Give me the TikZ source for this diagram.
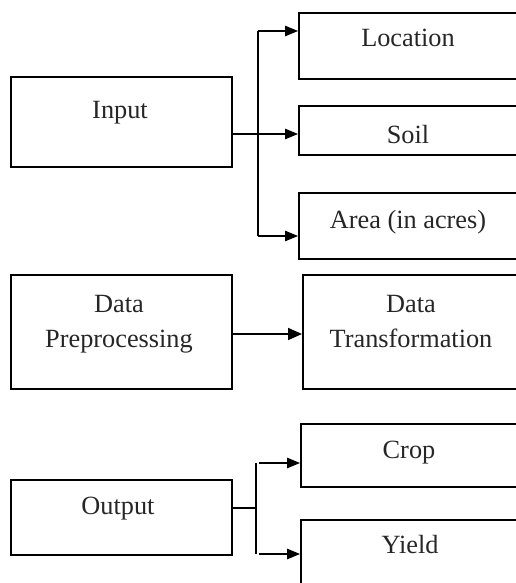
\documentclass[tikz,border=0pt]{standalone}
\usepackage{fontspec}
\setmainfont{Liberation Serif}
\usetikzlibrary{arrows.meta}
\begin{document}
\begin{tikzpicture}[x=1pt,y=-1pt,
  box/.style={draw,line width=1.6pt,minimum width=#1,inner sep=0pt,anchor=north west},
  lbl/.style={font=\fontsize{26.3}{30}\selectfont,anchor=base,inner sep=0pt},
  conn/.style={line width=1.2pt},
  arr/.style={line width=1.2pt,-{Triangle[length=13pt,width=10.5pt]}},
  every node/.style={text=black!85}]
\useasboundingbox (0,0) rectangle (516,583);
\clip (0,0) rectangle (516,583);
% boxes
\node[box=221pt,minimum height=90pt] (inp) at (10,76) {};
\node[box=232pt,minimum height=66pt] (loc) at (298,12) {};
\node[box=232pt,minimum height=49pt] (soil) at (298,105) {};
\node[box=232pt,minimum height=66pt] (area) at (298,192) {};
\node[box=221pt,minimum height=114pt] (dp) at (10,274) {};
\node[box=228pt,minimum height=114pt] (dt) at (302,274) {};
\node[box=230pt,minimum height=63pt] (crop) at (300,423) {};
\node[box=230pt,minimum height=80pt] (yield) at (300,519) {};
\node[box=221pt,minimum height=75pt] (out) at (10,479) {};
% labels
\node[lbl] (tinp) at (120,118) {Input};
\node[lbl] (tloc) at (408,47) {Location};
\node[lbl] (tsoil) at (408,143) {Soil};
\node[lbl] (tarea) at (408,228) {Area (in acres)};
\node[lbl] (tdp1) at (119,312) {Data};
\node[lbl] (tdp2) at (119,347) {Preprocessing};
\node[lbl] (tdt1) at (411,312) {Data};
\node[lbl] (tdt2) at (411,347) {Transformation};
\node[lbl] (tcrop) at (409,458) {Crop};
\node[lbl] (tyield) at (410,553) {Yield};
\node[lbl] (tout) at (118,514) {Output};
% connectors: input
\coordinate (jtop) at (258,31);
\coordinate (jmid) at (258,134);
\coordinate (jbot) at (258,236);
\draw[conn] (jtop) -- (jbot);
\draw[arr] (inp.east |- jmid) -- (soil.west |- jmid);
\draw[arr] (jtop) -- (loc.west |- jtop);
\draw[arr] (jbot) -- (area.west |- jbot);
% preprocessing
\coordinate (jdp) at (231,334);
\draw[line width=1.7pt,-{Triangle[length=14pt,width=12pt]}] (dp.east |- jdp) -- (dt.west |- jdp);
% output
\coordinate (otop) at (256,463);
\coordinate (omid) at (256,508);
\coordinate (obot) at (256,554);
\draw[conn] (otop) -- (obot);
\draw[conn] (out.east |- omid) -- (omid);
\draw[arr] ([xshift=3pt]otop) -- (crop.west |- otop);
\draw[arr] ([xshift=3pt]obot) -- (yield.west |- obot);
\end{tikzpicture}
\end{document}
